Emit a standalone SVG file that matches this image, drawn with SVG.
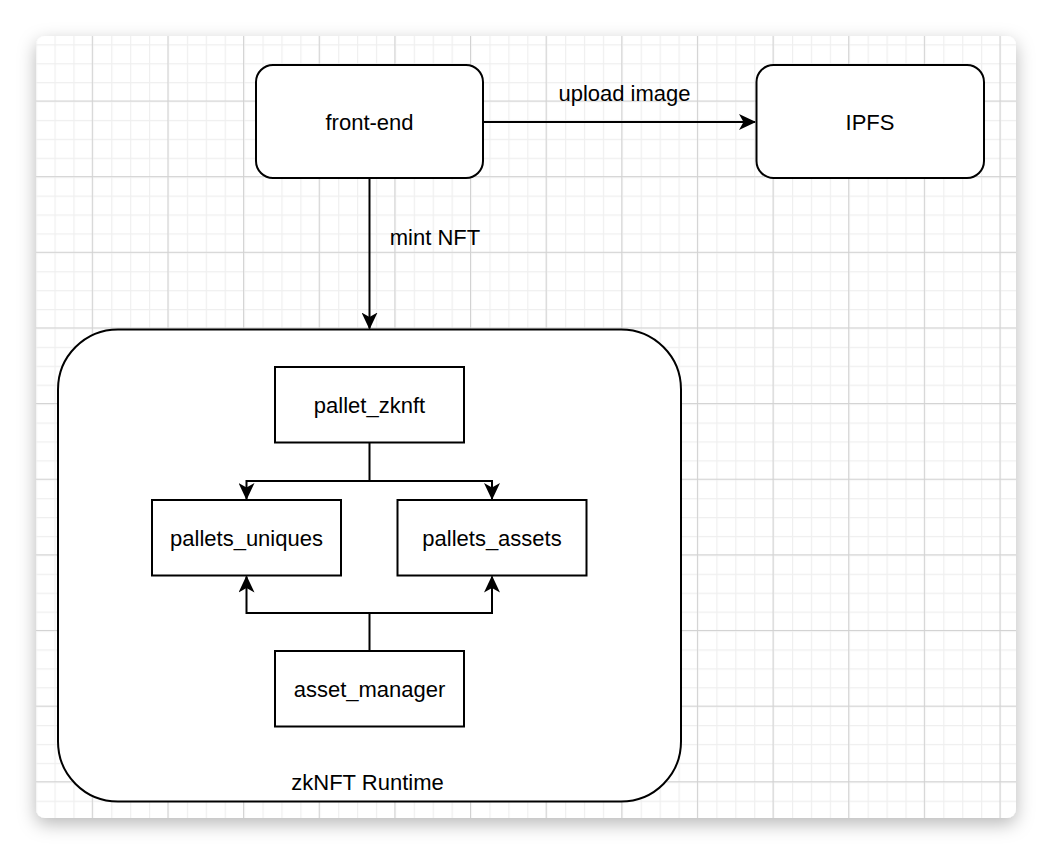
<svg xmlns="http://www.w3.org/2000/svg" width="1052" height="856" viewBox="0 0 1052 856">
  <defs>
    <filter id="pageShadow" x="-10%" y="-10%" width="120%" height="125%">
      <feDropShadow dx="0" dy="6" stdDeviation="9" flood-color="#000" flood-opacity="0.28"/>
    </filter>
    <pattern id="minorGrid" patternUnits="userSpaceOnUse" x="16.66" y="25.36" width="18.91" height="18.91">
      <path d="M0 0.5 H18.91 M0.5 0 V18.91" fill="none" stroke="#efefef" stroke-width="1.4"/>
    </pattern>
    <pattern id="majorGrid" patternUnits="userSpaceOnUse" x="16.16" y="24.86" width="75.64" height="75.64">
      <path d="M0 0.5 H75.64 M0.5 0 V75.64" fill="none" stroke="#d2d2d2" stroke-width="1"/>
    </pattern>
    <marker id="arrow" markerUnits="userSpaceOnUse" viewBox="0 0 17 16" refX="16" refY="8" markerWidth="17" markerHeight="16" orient="auto">
      <path d="M0 0 L17 8 L0 16 L4.5 8 Z" fill="#000"/>
    </marker>
    <clipPath id="pageClip">
      <rect x="36" y="36" width="980" height="782" rx="9"/>
    </clipPath>
  </defs>
  <style>
    .node { fill: #fff; stroke: #000; stroke-width: 2; }
    .label { font-family: "Liberation Sans", Arial, sans-serif; font-size: 22px; fill: #000; text-anchor: middle; dominant-baseline: central; }
    .edge { fill: none; stroke: #000; stroke-width: 2; }
  </style>

  <!-- page with grid -->
  <rect x="36" y="36" width="980" height="782" rx="9" fill="#fff" filter="url(#pageShadow)"/>
  <g clip-path="url(#pageClip)">
    <rect x="36" y="36" width="980" height="782" fill="url(#minorGrid)"/>
    <rect x="36" y="36" width="980" height="782" fill="url(#majorGrid)"/>
  </g>

  <!-- container -->
  <g id="runtime">
    <rect class="node" x="58" y="329.5" width="623" height="472" rx="60"/>
    <text class="label" x="367.5" y="782">zkNFT Runtime</text>
  </g>

  <g id="front-end">
    <rect class="node" x="256" y="65" width="227" height="113" rx="17"/>
    <text class="label" x="369.5" y="122">front-end</text>
  </g>

  <g id="ipfs">
    <rect class="node" x="756.5" y="65" width="227.5" height="113" rx="17"/>
    <text class="label" x="870" y="122">IPFS</text>
  </g>

  <g id="pallet_zknft">
    <rect class="node" x="275" y="367" width="189" height="75.5"/>
    <text class="label" x="369.5" y="405">pallet_zknft</text>
  </g>

  <g id="pallets_uniques">
    <rect class="node" x="152" y="500" width="189" height="75.5"/>
    <text class="label" x="246.5" y="538">pallets_uniques</text>
  </g>

  <g id="pallets_assets">
    <rect class="node" x="397.5" y="500" width="189" height="75.5"/>
    <text class="label" x="492" y="538">pallets_assets</text>
  </g>

  <g id="asset_manager">
    <rect class="node" x="275" y="651" width="189" height="75.5"/>
    <text class="label" x="369.5" y="689">asset_manager</text>
  </g>

  <!-- connectors -->
  <g id="connectors">
    <path class="edge" d="M483 122 H755" marker-end="url(#arrow)"/>
    <text class="label" x="624.5" y="93">upload image</text>

    <path class="edge" d="M369.5 178 V328.5" marker-end="url(#arrow)"/>
    <text class="label" x="435" y="237">mint NFT</text>

    <path class="edge" d="M369.5 442.5 V481 H246.5 V499" marker-end="url(#arrow)"/>
    <path class="edge" d="M369.5 481 H492 V499" marker-end="url(#arrow)"/>

    <path class="edge" d="M369.5 651 V613 H246.5 V576.5" marker-end="url(#arrow)"/>
    <path class="edge" d="M369.5 613 H492 V576.5" marker-end="url(#arrow)"/>
  </g>
</svg>
